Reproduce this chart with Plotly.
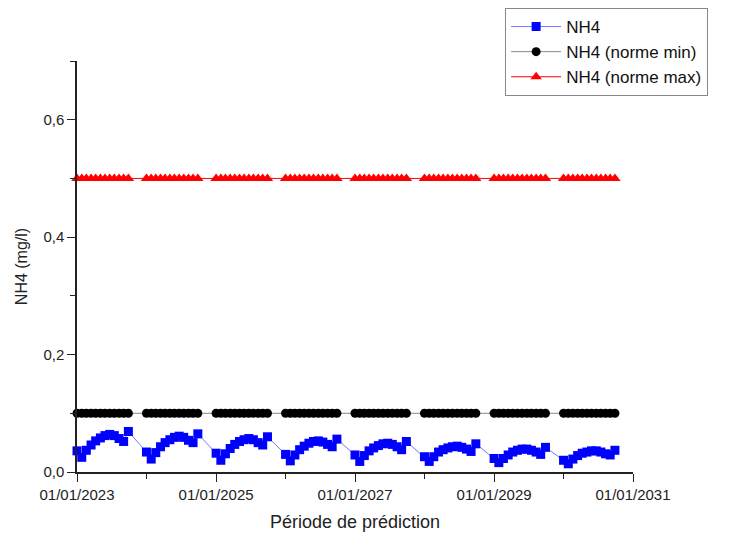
import plotly.graph_objects as go
from datetime import date, timedelta

YEARS = [2023, 2024, 2025, 2026, 2027, 2028, 2029, 2030]
DAY_OFFSETS = [0, 25, 49, 74, 98, 123, 147, 172, 196, 221, 245, 270]

NH4_2023 = [0.036, 0.025, 0.037, 0.046, 0.053, 0.058, 0.062, 0.064, 0.062, 0.057, 0.052, 0.069]
NH4_2024 = [0.034, 0.022, 0.033, 0.043, 0.050, 0.055, 0.059, 0.061, 0.059, 0.054, 0.050, 0.065]
NH4_2025 = [0.032, 0.020, 0.031, 0.040, 0.047, 0.052, 0.055, 0.057, 0.055, 0.050, 0.046, 0.060]
NH4_2026 = [0.030, 0.019, 0.029, 0.038, 0.044, 0.049, 0.052, 0.053, 0.051, 0.047, 0.043, 0.056]
NH4_2027 = [0.029, 0.018, 0.028, 0.036, 0.041, 0.045, 0.048, 0.049, 0.047, 0.043, 0.038, 0.052]
NH4_2028 = [0.026, 0.018, 0.026, 0.034, 0.038, 0.041, 0.043, 0.044, 0.042, 0.039, 0.035, 0.048]
NH4_2029 = [0.023, 0.016, 0.023, 0.029, 0.034, 0.037, 0.039, 0.039, 0.037, 0.034, 0.030, 0.042]
NH4_2030 = [0.020, 0.014, 0.022, 0.028, 0.032, 0.034, 0.036, 0.036, 0.034, 0.031, 0.029, 0.037]

NORME_MIN = 0.1
NORME_MAX = 0.5

Y_TICKS = [0.0, 0.2, 0.4, 0.6]
X_TICKS = ["2023-01-01", "2025-01-01", "2027-01-01", "2029-01-01", "2031-01-01"]
X_TICK_LABELS = ["01/01/2023", "01/01/2025", "01/01/2027", "01/01/2029", "01/01/2031"]

nh4 = (NH4_2023 + NH4_2024 + NH4_2025 + NH4_2026 + NH4_2027 + NH4_2028
       + NH4_2029 + NH4_2030)
dates = [date(y, 1, 1) + timedelta(days=d) for y in YEARS for d in DAY_OFFSETS]
nmin = [NORME_MIN] * len(dates)
nmax = [NORME_MAX] * len(dates)

FONT = "Liberation Sans, Arial, sans-serif"

fig = go.Figure()
fig.add_trace(go.Scatter(
    x=dates, y=nh4, name="NH4", mode="lines+markers",
    line=dict(color="#7777ff", width=1),
    marker=dict(symbol="square", size=9, color="#0000ff"),
    cliponaxis=False,
))
fig.add_trace(go.Scatter(
    x=dates, y=nmin, name="NH4 (norme min)", mode="lines+markers",
    line=dict(color="#888888", width=1),
    marker=dict(symbol="circle", size=9, color="#000000"),
    cliponaxis=False,
))
fig.add_trace(go.Scatter(
    x=dates, y=nmax, name="NH4 (norme max)", mode="lines+markers",
    line=dict(color="#ff0000", width=1),
    marker=dict(symbol="triangle-up", size=10, color="#ff0000"),
    cliponaxis=False,
))

# page body adds an 8px offset; margins compensate so the plot area lands
# at x 77..633, y 61..472 on screen
fig.update_layout(
    width=730, height=538,
    margin=dict(l=69, r=105, t=53, b=74, autoexpand=False),
    paper_bgcolor="white", plot_bgcolor="white",
    font=dict(family=FONT, size=14, color="#222222"),
    separators=", ",
    showlegend=True,
    legend=dict(
        xref="container", yref="container",
        x=0.681, y=1.0, xanchor="left", yanchor="top",
        bordercolor="#888888", borderwidth=1, bgcolor="white",
        font=dict(family=FONT, size=17, color="#111111"),
        tracegroupgap=0, itemwidth=50,
        entrywidth=170, entrywidthmode="pixels",
    ),
)
fig.update_xaxes(
    type="date",
    range=["2023-01-01", "2031-01-01"],
    tickvals=X_TICKS, ticktext=X_TICK_LABELS,
    ticks="outside", ticklen=8, tickwidth=1.2, tickcolor="#222222",
    minor=dict(dtick="M12", tick0="2023-01-01", ticks="outside", ticklen=5,
               tickcolor="#222222", tickwidth=1.2, showgrid=False),
    showline=True, linecolor="#222222", linewidth=1.5,
    showgrid=False, zeroline=False, automargin=False,
    tickfont=dict(size=15),
    title=dict(text="Période de prédiction", font=dict(size=18), standoff=14),
)
fig.update_yaxes(
    range=[0, 0.7],
    tickvals=Y_TICKS, tickformat=".1f",
    ticks="outside", ticklen=8, tickwidth=1.2, tickcolor="#222222",
    minor=dict(dtick=0.1, tick0=0, ticks="outside", ticklen=5,
               tickcolor="#222222", tickwidth=1.2, showgrid=False),
    showline=True, linecolor="#222222", linewidth=1.5,
    showgrid=False, zeroline=False, automargin=False,
    tickfont=dict(size=15),
    title=dict(text="NH4 (mg/l)", font=dict(size=16), standoff=12),
)

fig.write_html("out.html")
